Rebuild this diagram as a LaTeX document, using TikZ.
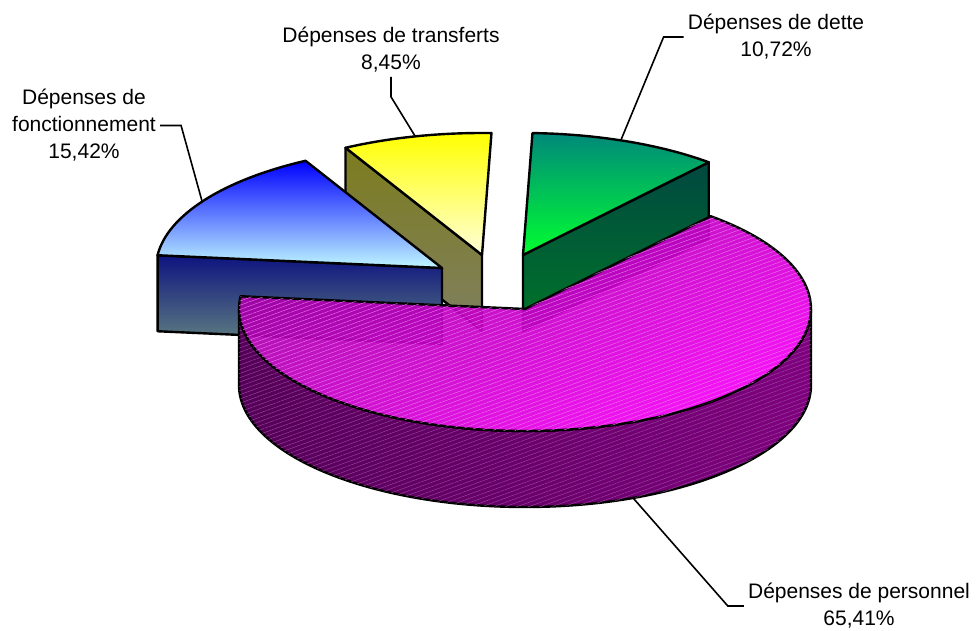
\documentclass[tikz,border=0pt]{standalone}
\usepackage{fontspec}
\setmainfont{Liberation Sans}
\usetikzlibrary{calc, patterns.meta}

\definecolor{dettetop}{RGB}{0,136,122}
\definecolor{dettelow}{RGB}{0,255,48}
\definecolor{detteside}{RGB}{0,72,64}
\definecolor{dettesidelow}{RGB}{0,118,40}
\definecolor{transftop}{RGB}{255,255,0}
\definecolor{transflow}{RGB}{255,255,218}
\definecolor{transfside}{RGB}{124,124,30}
\definecolor{transfsidelow}{RGB}{128,128,98}
\definecolor{fonctop}{RGB}{0,0,255}
\definecolor{fonclow}{RGB}{192,248,255}
\definecolor{foncside}{RGB}{14,20,128}
\definecolor{foncsidelow}{RGB}{96,128,128}
\definecolor{perstop}{RGB}{158,0,160}
\definecolor{perslow}{RGB}{255,0,255}
\definecolor{persside}{RGB}{84,0,88}
\definecolor{perssidelow}{RGB}{128,0,128}
\definecolor{pershatch}{RGB}{235,110,235}
\definecolor{perssidehatch}{RGB}{150,70,150}

\newcommand{\lblfont}{\fontsize{15.75}{20.25}\selectfont}

\begin{document}
\begin{tikzpicture}[
    x=0.75pt, y=0.75pt,
    % Styles
    piece/.style={draw=black, line width=1.8pt, line join=round},
    hatch/.style={postaction={pattern={Lines[angle=20, distance=3pt, line width=0.35pt]}, pattern color=#1}},
    leader/.style={draw=black, line width=1.2pt},
    pielabel/.style={font=\lblfont, align=center, inner sep=3pt},
]
\useasboundingbox (0,0) rectangle (978,-631);

% radii 286 and 122, depth 76
\def\rx{286}
\def\ry{122}
\def\dep{76}

% Apex of each slice
\coordinate (dette-c) at (523,-255);
\coordinate (transf-c) at (482,-255);
\coordinate (fonct-c) at (442,-268);
\coordinate (pers-c) at (525,-309);

% Dépenses de dette
\path[piece, top color=detteside, bottom color=dettesidelow]
    (dette-c) -- ++(49.5:286 and 122) -- ++(0,-\dep) -- ($(dette-c)+(0,-\dep)$) -- cycle;
\path[piece, top color=dettetop, bottom color=dettelow]
    (dette-c) -- ++(49.5:286 and 122)
    arc[start angle=49.5, end angle=88.1, x radius=\rx, y radius=\ry] -- cycle;

% Dépenses de transferts
\path[piece, top color=transfside, bottom color=transfsidelow]
    (transf-c) -- ++(118.5:286 and 122) -- ++(0,-\dep) -- ($(transf-c)+(0,-\dep)$) -- cycle;
\path[piece, top color=transftop, bottom color=transflow]
    (transf-c) -- ++(88.1:286 and 122)
    arc[start angle=88.1, end angle=118.5, x radius=\rx, y radius=\ry] -- cycle;

% Dépenses de fonctionnement
\path[piece, top color=foncside, bottom color=foncsidelow]
    (fonct-c) -- ++(174:286 and 122) -- ++(0,-\dep) -- ($(fonct-c)+(0,-\dep)$) -- cycle;
\path[piece, top color=fonctop, bottom color=fonclow]
    (fonct-c) -- ++(118.5:286 and 122)
    arc[start angle=118.5, end angle=174, x radius=\rx, y radius=\ry] -- cycle;

% Dépenses de personnel
\path[piece, hatch=perssidehatch, left color=persside, right color=perssidelow]
    ($(pers-c)+(180:286 and 122)$)
    arc[start angle=180, end angle=360, x radius=\rx, y radius=\ry] -- ++(0,-\dep)
    arc[start angle=360, end angle=180, x radius=\rx, y radius=\ry] -- cycle;
\path[piece, hatch=pershatch, top color=perstop, bottom color=perslow, shading angle=25, fill opacity=0.93]
    (pers-c) -- ++(49.5:286 and 122)
    arc[start angle=49.5, end angle=-186, x radius=\rx, y radius=\ry] -- cycle;

% Labels
\node[pielabel] (dette) at (776,-37) {Dépenses de dette\\10,72\%};
\node[pielabel] (transferts) at (391,-50) {Dépenses de transferts\\8,45\%};
\node[pielabel] (fonctionnement) at (84,-125.5) {Dépenses de\\fonctionnement\\15,42\%};
\node[pielabel] (personnel) at (859,-606) {Dépenses de personnel\\65,41\%};

% Leader lines
\coordinate (dette-pt) at ($(dette-c)+(70:286 and 122)$);
\coordinate (transf-pt) at ($(transf-c)+(103.5:286 and 122)$);
\coordinate (fonct-pt) at ($(fonct-c)+(147:286 and 122)$);
\coordinate (pers-pt) at ($(pers-c)+(0,-\dep)+(-67.8:286 and 122)$);

\draw[leader] (dette-pt) -- ($(dette.west)+(-20,0)$) -- (dette.west);
\draw[leader] (transf-pt) -- ($(transferts.south)+(0,-20)$) -- (transferts.south);
\draw[leader] (fonct-pt) -- ($(fonctionnement.east)+(21,0)$) -- (fonctionnement.east);
\draw[leader] (pers-pt) -- ($(personnel.west)+(-16,0)$) -- (personnel.west);

\end{tikzpicture}
\end{document}
